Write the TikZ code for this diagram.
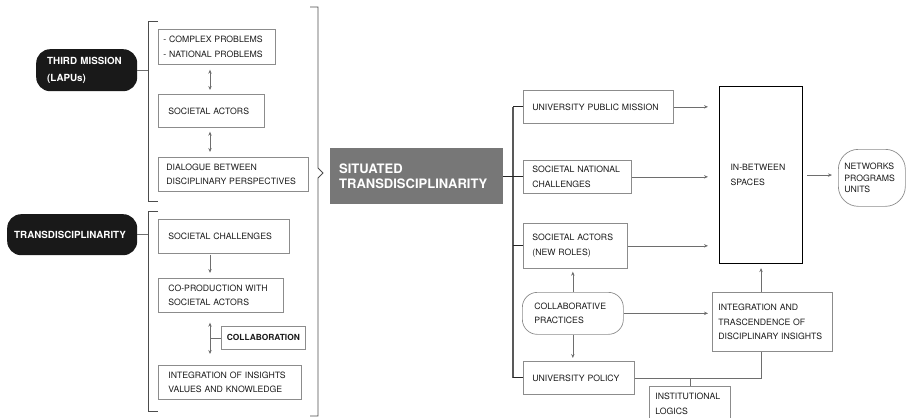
\documentclass[tikz,border=0pt]{standalone}
\usepackage{fontspec}
\setmainfont{TeX Gyre Heros}
\usetikzlibrary{arrows.meta}
\definecolor{boxgray}{HTML}{8C8C8C}
\definecolor{linegray}{HTML}{6E6E6E}
\definecolor{stgray}{HTML}{777777}
\definecolor{txt}{HTML}{1A1A1A}
\tikzset{
  box/.style={draw=boxgray, line width=0.7pt, anchor=north west, align=left,
    inner xsep=10pt, inner ysep=0pt, text=txt, font=\fontsize{8.7}{14.5}\selectfont},
  dark/.style={fill=black!90, rounded corners=14pt, anchor=north west, align=left,
    inner ysep=0pt, text=white, font=\bfseries\fontsize{9.8}{16.5}\selectfont},
  roundbox/.style={box, rounded corners=15pt},
  link/.style={draw=linegray, line width=0.6pt},
  arr/.style={link, -{Stealth[length=4pt,width=3.4pt]}},
  darr/.style={link, {Stealth[length=4pt,width=3.4pt]}-{Stealth[length=4pt,width=3.4pt]}},
  brk/.style={draw=black!70, line width=0.8pt},
  trunk/.style={draw=black!65, line width=1.6pt},
  tick/.style={draw=black!85, line width=0.8pt}
}
\begin{document}
\begin{tikzpicture}[x=1pt, y=-1pt]
\useasboundingbox (0,0) rectangle (906,418);
% left column
\node[dark, text width=79pt, inner xsep=11pt, minimum height=42pt] (tm) at (36,49) {THIRD MISSION\\(LAPUs)};
\node[dark, text width=116pt, inner xsep=7pt, minimum height=41pt] (td) at (7,214) {TRANSDISCIPLINARITY};
\node[box, inner xsep=5pt, text width=107pt, minimum height=35pt] (cp) at (158,29) {- COMPLEX PROBLEMS\\- NATIONAL PROBLEMS};
\node[box, text width=86pt, minimum height=33pt] (sa) at (158,94) {SOCIETAL ACTORS};
\node[box, inner xsep=8pt, text width=134pt, minimum height=34pt] (dl) at (158,157) {DIALOGUE BETWEEN\\DISCIPLINARY PERSPECTIVES};
\node[box, text width=111pt, minimum height=34pt] (sc) at (158,219) {SOCIETAL CHALLENGES};
\node[box, text width=105pt, minimum height=34pt] (cop) at (158,278) {CO-PRODUCTION WITH\\SOCIETAL ACTORS};
\node[box, align=center, inner xsep=4pt, text width=76pt, minimum height=23pt,
  font=\bfseries\fontsize{8.4}{10}\selectfont] (col) at (221,326) {COLLABORATION};
\node[box, text width=123pt, minimum height=34pt] (ins) at (158,365) {INTEGRATION OF INSIGHTS\\VALUES AND KNOWLEDGE};
% brackets
\coordinate (b1t) at (148,21);
\coordinate (b1b) at (148,201);
\coordinate (b2t) at (148,211);
\coordinate (b2b) at (148,411);
\draw[brk] (158,21) -- (b1t) -- (b1b) -- (158,201);
\draw[brk] (158,211) -- (b2t) -- (b2b) -- (158,411);
\draw[brk] (310,7) -- (318,7) -- (318,168) -- (323,173) -- (318,178) -- (318,416) -- (310,416);
\draw[link] (tm.east) -- (tm.east -| b1t);
\draw[link] (td.east) -- (td.east -| b2t);
\draw[darr, shorten <=5pt, shorten >=4pt] ([xshift=52pt]cp.south west) -- ([xshift=52pt]sa.north west);
\draw[darr, shorten <=4pt, shorten >=5pt] ([xshift=52pt]sa.south west) -- ([xshift=52pt]dl.north west);
\draw[arr, shorten <=1pt, shorten >=5pt] ([xshift=52pt]sc.south west) -- ([xshift=52pt]cop.north west);
\draw[darr, shorten <=10pt, shorten >=11pt] ([xshift=52pt]cop.south west) -- ([xshift=52pt]ins.north west);
\draw[link] (col.west) -- ++(-11,0);
% centre
\node[anchor=north west, fill=stgray, align=left, text width=155pt, inner xsep=9pt, inner ysep=0pt,
  minimum height=56pt, text=white, font=\bfseries\fontsize{13}{15.7}\selectfont] (st) at (330,148) {SITUATED\\TRANSDISCIPLINARITY};
% right column
\node[box, inner xsep=9pt, text width=132pt, minimum height=33pt] (upm) at (523,90) {UNIVERSITY PUBLIC MISSION};
\node[box, inner xsep=9pt, text width=90pt, minimum height=33pt] (snc) at (523,160) {SOCIETAL NATIONAL\\CHALLENGES};
\node[box, inner xsep=9pt, text width=86pt, minimum height=45pt] (sar) at (523,223) {SOCIETAL ACTORS\\(NEW ROLES)};
\node[roundbox, inner xsep=12pt, text width=77pt, minimum height=42pt] (cpr) at (522,292) {COLLABORATIVE\\PRACTICES};
\node[box, inner xsep=9pt, text width=93pt, minimum height=33pt] (up) at (523,361) {UNIVERSITY POLICY};
\node[box, inner xsep=6pt, text width=69pt, minimum height=35pt] (il) at (649,386) {INSTITUTIONAL\\LOGICS};
\node[box, draw=black, line width=1.1pt, inner xsep=11pt, text width=61pt, minimum height=177pt] (inb) at (719,86) {IN-BETWEEN\\SPACES};
\node[box, inner xsep=6pt, text width=108pt, minimum height=59pt] (its) at (712,292) {INTEGRATION AND\\TRASCENDENCE OF\\DISCIPLINARY INSIGHTS};
\node[box, rounded corners=20pt, inner xsep=6pt, text width=55pt, minimum height=57pt,
  font=\fontsize{8.7}{11.5}\selectfont] (net) at (838,149) {NETWORKS\\PROGRAMS\\UNITS};
% trunk
\coordinate (tr) at (513,0);
\draw[trunk] (upm.west -| tr) -- (up.west -| tr);
\draw[tick] (st.east) -- (st.east -| tr);
\foreach \n in {upm,snc,sar,up}
  \draw[tick] (\n.west) -- (\n.west -| tr);
\foreach \n in {upm,snc,sar}
  \draw[arr, shorten >=11pt] (\n.east) -- (\n.east -| inb.west);
\draw[arr, shorten <=4pt, shorten >=6pt] (inb.east) -- (inb.east -| net.west);
\draw[arr, shorten >=3pt] (cpr.north) -- (cpr.north |- sar.south);
\draw[arr, shorten >=3pt] (cpr.south) -- (cpr.south |- up.north);
\draw[arr, shorten >=4pt] (cpr.east) -- (cpr.east -| its.west);
\draw[arr, shorten >=4pt] (its.north -| inb.south) -- (inb.south);
\draw[link] (up.east) -| (its.south -| inb.south);
\draw[link] (il.north) -- (il.north |- up.east);
\end{tikzpicture}
\end{document}
